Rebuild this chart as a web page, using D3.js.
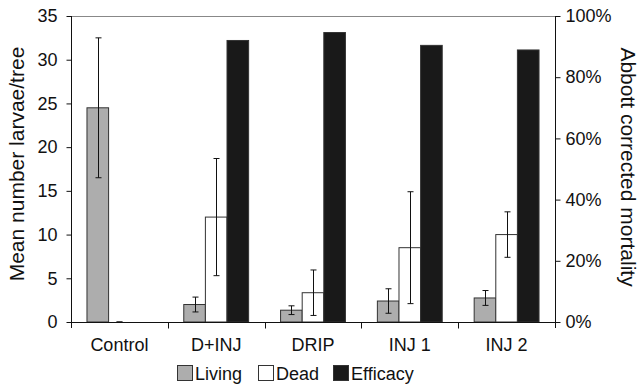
<!DOCTYPE html>
<html>
<head>
<meta charset="utf-8">
<script src="https://cdn.jsdelivr.net/npm/d3@7"></script>
<style>
  body { margin: 0; background: #fff; }
  svg { display: block; font-family: "Liberation Sans", Arial, sans-serif; }
</style>
</head>
<body>
<svg id="chart" width="643" height="384"></svg>
<script>
// data
const categories = ["Control", "D+INJ", "DRIP", "INJ 1", "INJ 2"];
const living = [24.5, 2.0, 1.35, 2.4, 2.75];
const livingErr = [8.0, 0.85, 0.5, 1.4, 0.85];
const dead = [0, 12.0, 3.35, 8.5, 10.0];
const deadErr = [0, 6.7, 2.6, 6.4, 2.6];
const efficacy = [0, 92, 94.6, 90.4, 88.9];
const series = ["Living", "Dead", "Efficacy"];
const leftTicks = [0, 5, 10, 15, 20, 25, 30, 35];
const rightTicks = [0, 20, 40, 60, 80, 100];

const colors = { Living: "#adadad", Dead: "#ffffff", Efficacy: "#191919" };

const svg = d3.select("#chart");
const m = { left: 71, right: 555, top: 16, bottom: 322 };

const x = d3.scaleBand().domain(categories).range([m.left, m.right]).padding(0);
const sub = d3.scaleBand().domain(series).range([x.bandwidth() * 0.165, x.bandwidth() * 0.835]).padding(0);
const y = d3.scaleLinear().domain([0, 35]).range([m.bottom, m.top]);
const yR = d3.scaleLinear().domain([0, 100]).range([m.bottom, m.top]);

// top frame line
svg.append("line").attr("x1", m.left).attr("x2", m.right).attr("y1", m.top + 0.5).attr("y2", m.top + 0.5)
    .attr("stroke", "#888").attr("stroke-width", 1);

// build rows for bars
const rows = [];
categories.forEach((c, i) => {
    rows.push({ c, s: "Living", v: living[i], e: livingErr[i], sc: y });
    rows.push({ c, s: "Dead", v: dead[i], e: deadErr[i], sc: y });
    rows.push({ c, s: "Efficacy", v: efficacy[i], e: null, sc: yR });
});

svg.append("g").selectAll("rect").data(rows.filter(d => d.v > 0)).join("rect")
    .attr("x", d => x(d.c) + sub(d.s))
    .attr("width", sub.bandwidth())
    .attr("y", d => d.sc(d.v))
    .attr("height", d => d.sc(0) - d.sc(d.v))
    .attr("fill", d => colors[d.s])
    .attr("stroke", "#333")
    .attr("stroke-width", 1);

// error bars
const eb = svg.append("g").attr("stroke", "#111").attr("stroke-width", 1);
rows.filter(d => d.e !== null).forEach(d => {
    const cx = Math.round(x(d.c) + sub(d.s) + sub.bandwidth() / 2) + 0.5;
    const lo = y(Math.max(0, d.v - d.e)), hi = y(d.v + d.e);
    eb.append("line").attr("x1", cx).attr("x2", cx).attr("y1", lo).attr("y2", hi);
    [lo, hi].forEach(yy => eb.append("line").attr("x1", cx - 3).attr("x2", cx + 3).attr("y1", yy).attr("y2", yy));
});

// left axis
const axL = svg.append("g").attr("transform", `translate(${m.left + 0.5},0)`)
    .call(d3.axisLeft(y).tickValues(leftTicks).tickSize(5).tickPadding(9));
axL.select(".domain").attr("d", `M0,${m.top}V${m.bottom + 6}`);

// right axis
const axR = svg.append("g").attr("transform", `translate(${m.right + 0.5},0)`)
    .call(d3.axisRight(yR).tickValues(rightTicks).tickSize(5).tickPadding(5).tickFormat(d => d + "%"));
axR.select(".domain").attr("d", `M0,${m.top}V${m.bottom + 6}`);

[axL, axR].forEach(a => {
    a.selectAll("text").attr("font-size", 18).attr("fill", "#111").attr("font-family", "Liberation Sans, Arial, sans-serif");
    a.selectAll("line, path").attr("stroke", "#111");
});

// bottom axis with category boundary ticks
const axB = svg.append("g").attr("transform", `translate(0,${m.bottom + 0.5})`);
axB.append("line").attr("x1", m.left).attr("x2", m.right).attr("stroke", "#111");
categories.forEach((c, i) => {
    if (i > 0) axB.append("line").attr("x1", Math.round(x(c)) + 0.5).attr("x2", Math.round(x(c)) + 0.5)
        .attr("y1", 0).attr("y2", 6).attr("stroke", "#111");
});
axB.selectAll("text.cat").data(categories).join("text").attr("class", "cat")
    .attr("x", d => x(d) + x.bandwidth() / 2).attr("y", 28)
    .attr("text-anchor", "middle").attr("font-size", 18).attr("fill", "#111").text(d => d);

// axis titles
svg.append("text").attr("transform", `translate(24,${(m.top + m.bottom) / 2 - 5}) rotate(-90)`)
    .attr("text-anchor", "middle").attr("font-size", 21).attr("fill", "#111").text("Mean number larvae/tree");
svg.append("text").attr("transform", `translate(621,${(m.top + m.bottom) / 2 - 2}) rotate(90)`)
    .attr("text-anchor", "middle").attr("font-size", 21).attr("fill", "#111").text("Abbott corrected mortality");

// legend
const legX = [177, 258, 333];
const leg = svg.append("g").selectAll("g").data(series).join("g")
    .attr("transform", (d, i) => `translate(${legX[i]},365)`);
leg.append("rect").attr("x", 0.5).attr("y", 0.5).attr("width", 15).attr("height", 15)
    .attr("fill", d => colors[d]).attr("stroke", "#333");
leg.append("text").attr("x", 18).attr("y", 14.5).attr("font-size", 18).attr("fill", "#111").text(d => d);
</script>
</body>
</html>
